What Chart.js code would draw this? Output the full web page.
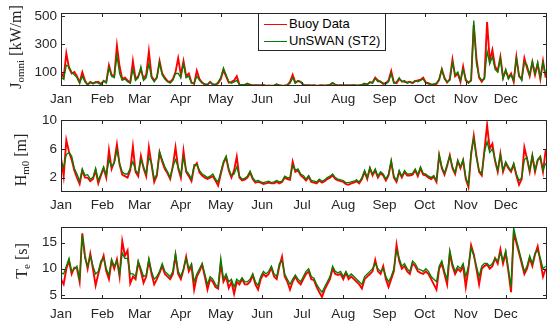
<!DOCTYPE html>
<html lang="en">
<head>
  <meta charset="UTF-8">
  <title>Buoy vs UnSWAN wave parameters</title>
  <script src="https://cdn.jsdelivr.net/npm/chart.js"></script>
  <style>
    body {
      margin: 0;
      background: #ffffff;
      width: 550px;
      height: 328px;
      position: relative;
      overflow: hidden;
      font-family: 'Liberation Sans', Arial, sans-serif;
    }
    .panel {
      position: absolute;
      left: 0;
      width: 550px;
    }
    .ylab {
      position: absolute;
      transform: translate(-50%, -50%) rotate(-90deg);
      white-space: nowrap;
      font-family: 'Liberation Serif', 'Times New Roman', serif;
      font-size: 16px;
      color: #262626;
    }
    .ylab sub {
      font-size: 11px;
      vertical-align: -3px;
    }
    .legend {
      position: absolute;
      left: 258px;
      top: 13px;
      width: 126px;
      height: 36px;
      background: #fff;
      border: 1px solid #262626;
      font-size: 13px;
      color: #000;
    }
    .legend .row {
      position: absolute;
      left: 5px;
      height: 16px;
      line-height: 16px;
      white-space: nowrap;
    }
    .legend .swatch {
      display: inline-block;
      width: 23px;
      height: 0;
      vertical-align: middle;
      margin-right: 2px;
    }
  </style>
</head>
<body>

<div class="panel" style="top:0;height:106px"><canvas id="jChart" width="550" height="106"></canvas></div>
<div class="panel" style="top:106px;height:106px"><canvas id="hChart" width="550" height="106"></canvas></div>
<div class="panel" style="top:212px;height:116px"><canvas id="tChart" width="550" height="116"></canvas></div>

<div class="ylab" style="left:16px;top:47px">J<sub>omni</sub> [kW/m]</div>
<div class="ylab" style="left:21px;top:160px">H<sub>m0</sub> [m]</div>
<div class="ylab" style="left:22px;top:261px">T<sub>e</sub> [s]</div>

<div class="legend">
  <div class="row" style="top:2px"><span class="swatch" style="border-top:1.5px solid #ff0000"></span>Buoy Data</div>
  <div class="row" style="top:19px"><span class="swatch" style="border-top:1.5px solid #008000"></span>UnSWAN (ST2)</div>
</div>

<script>
  // month starts (day of year) and their labels
  const monthDays = [0, 31, 59, 90, 120, 151, 181, 212, 243, 273, 304, 334];
  const monthNames = ['Jan', 'Feb', 'Mar', 'Apr', 'May', 'Jun', 'Jul', 'Aug', 'Sep', 'Oct', 'Nov', 'Dec'];

  // samples every 2 days
  const stepDays = 2;

  // omnidirectional wave power [kW/m]
  const jBuoy = [
    100,60,235,130,90,100,70,25,100,40,
    8,30,20,25,30,15,35,30,150,80,
    70,290,140,50,60,40,25,180,50,70,
    120,50,80,250,70,40,60,180,90,60,
    35,30,50,100,200,80,180,70,90,25,
    15,110,50,25,10,10,30,10,10,20,
    50,115,70,25,30,40,70,10,8,10,
    15,10,5,6,5,4,8,3,3,3,
    4,10,5,3,4,6,30,80,25,35,
    30,8,5,5,4,5,3,4,6,3,
    5,8,20,10,4,5,4,5,4,5,
    6,4,5,8,15,12,25,25,60,40,
    30,15,20,40,107,25,20,50,35,30,
    25,30,20,35,40,45,60,25,20,12,
    10,15,45,120,60,25,50,190,70,90,
    30,140,40,25,40,440,200,60,30,60,
    460,180,260,140,110,210,60,110,60,90,
    30,210,70,50,200,130,70,170,80,160,
    50,180,60
  ];
  const jSwan = [
    60,50,150,140,100,80,60,20,70,30,
    10,25,15,30,20,10,40,20,130,70,
    60,220,90,40,50,30,20,120,40,60,
    140,40,60,160,60,30,60,170,80,50,
    30,20,40,90,90,60,160,60,70,20,
    20,70,40,20,15,10,25,15,10,30,
    60,130,80,30,20,30,40,10,10,8,
    20,8,5,5,4,5,6,3,4,3,
    5,15,4,3,4,8,20,60,20,40,
    30,10,5,6,4,5,3,4,5,4,
    6,10,25,8,5,6,4,5,6,4,
    8,5,6,10,20,10,30,20,55,30,
    35,20,15,30,90,20,30,60,30,40,
    20,30,25,40,30,40,50,20,15,10,
    15,20,50,120,50,30,40,170,80,100,
    40,120,50,20,40,470,160,70,40,50,
    250,160,210,120,100,200,50,120,50,80,
    40,200,80,40,170,150,80,180,90,170,
    60,170,80
  ];

  // significant wave height [m]
  const hBuoy = [
    4.8,2.2,7.2,5.6,4.5,3.0,2.0,1.1,3.0,2.0,
    2.0,1.5,1.8,3.0,1.2,2.3,3.3,2.0,5.8,3.2,
    4.2,6.6,3.8,2.4,2.2,2.0,3.0,6.3,2.8,2.2,
    5.0,3.3,2.2,6.2,3.8,1.4,2.3,5.5,4.2,3.2,
    2.6,1.8,3.6,6.2,3.3,2.0,5.7,2.8,2.2,1.5,
    3.5,4.0,2.7,2.3,2.0,1.8,2.0,2.2,1.6,0.9,
    2.5,4.0,4.8,3.0,2.0,3.0,4.9,2.0,1.6,1.7,
    2.0,2.7,1.8,1.3,1.4,1.3,1.1,1.2,1.3,1.2,
    1.2,1.4,1.2,1.4,2.0,1.8,1.7,4.2,2.8,3.0,
    2.3,2.0,1.6,2.1,1.4,1.3,1.2,1.6,1.3,1.5,
    1.8,2.0,2.3,1.8,1.6,1.5,1.4,1.1,1.0,1.2,
    1.3,1.5,1.2,1.8,2.8,1.8,3.3,2.3,3.0,2.0,
    2.6,2.3,1.6,2.3,4.2,2.0,1.4,2.8,2.0,2.8,
    2.3,2.3,2.4,3.0,2.2,3.3,2.4,2.3,2.0,1.8,
    2.1,1.4,5.1,3.3,2.4,3.6,5.1,3.3,2.5,4.3,
    3.3,4.4,1.8,0.7,5.2,7.8,5.0,2.8,2.3,5.8,
    9.3,6.0,6.7,4.3,2.8,5.3,2.8,4.0,3.3,2.8,
    3.8,2.3,1.0,1.8,6.2,4.6,2.8,5.0,2.8,4.4,
    4.8,2.8,5.8
  ];
  const hSwan = [
    4.2,3.5,5.2,5.5,5.0,3.3,2.5,1.5,3.2,2.3,
    2.4,1.8,2.0,3.3,1.6,2.5,3.5,2.3,4.5,3.5,
    4.0,5.8,4.0,2.8,2.5,2.5,3.3,4.2,3.0,2.6,
    4.5,3.5,2.5,4.8,4.0,1.8,2.5,5.6,4.5,3.5,
    2.8,2.0,3.5,4.5,3.5,2.3,4.8,3.0,2.5,1.8,
    3.8,3.8,3.0,2.5,2.3,2.0,2.2,2.5,1.8,1.4,
    2.8,4.2,5.0,3.2,2.3,2.5,3.5,2.2,1.8,1.9,
    2.2,2.9,2.0,1.5,1.6,1.4,1.3,1.4,1.5,1.3,
    1.4,1.6,1.4,1.5,2.2,2.0,2.0,3.7,3.0,3.2,
    2.5,2.3,1.8,2.3,1.6,1.5,1.4,1.8,1.5,1.7,
    2.0,2.2,2.5,2.0,1.8,1.7,1.6,1.3,1.3,1.4,
    1.5,1.7,1.4,2.0,3.0,2.0,3.4,2.5,3.2,2.2,
    2.8,2.5,1.8,2.5,4.4,2.2,1.6,3.0,2.2,3.0,
    2.5,2.5,2.6,3.2,2.4,3.5,2.6,2.5,2.2,2.0,
    2.3,1.6,5.2,3.5,2.6,3.8,5.0,3.5,2.7,4.4,
    3.5,4.5,2.0,1.0,5.5,7.5,4.8,3.0,2.5,5.5,
    7.0,5.5,6.0,4.5,3.0,5.2,3.0,4.2,3.5,3.0,
    4.0,2.5,1.6,2.0,4.5,4.8,3.0,5.2,3.0,4.5,
    5.0,3.0,4.0
  ];

  // energy period [s]
  const tBuoy = [
    8.0,7.0,10.0,11.5,9.0,10.2,10.0,7.5,16.8,12.5,
    10.0,12.9,10.0,6.8,9.0,11.0,12.5,9.5,8.0,11.5,
    10.0,11.8,8.5,15.3,12.5,13.5,7.2,8.5,8.0,11.2,
    9.5,7.3,8.5,11.5,9.0,7.0,8.0,9.2,10.5,9.0,
    8.5,8.0,9.0,12.5,9.0,8.0,9.8,12.3,9.5,10.5,
    6.0,8.5,9.5,10.8,8.5,6.0,8.0,7.5,6.5,6.2,
    11.0,7.5,8.5,6.3,7.5,5.2,7.5,7.0,8.0,7.0,
    7.0,7.5,8.8,7.0,6.0,8.0,9.0,8.5,9.0,10.2,
    8.5,8.0,10.5,12.3,8.5,7.5,6.0,7.5,8.5,7.5,
    7.0,8.0,9.0,9.5,8.0,7.8,6.5,5.5,4.6,6.0,
    7.0,8.0,10.0,9.0,8.8,9.0,8.0,9.2,8.0,8.5,
    8.0,7.5,7.0,6.2,8.0,8.5,9.0,9.5,11.7,9.5,
    9.0,10.5,8.0,6.5,8.0,9.5,14.6,11.5,10.0,10.5,
    9.5,9.0,11.0,10.5,9.5,9.2,9.0,9.5,9.0,8.0,
    7.0,6.0,10.0,11.0,9.0,7.0,13.0,10.5,9.0,10.0,
    9.5,10.5,6.5,10.0,14.5,12.8,10.0,7.0,10.0,10.5,
    10.8,10.0,10.5,12.0,11.0,13.7,11.0,13.0,9.5,5.5,
    16.8,15.0,13.0,11.0,9.0,10.0,12.0,10.5,12.7,14.3,
    11.5,8.5,10.0
  ];
  const tSwan = [
    9.2,9.0,10.5,12.0,9.5,10.0,10.5,8.0,16.5,12.0,
    10.5,12.5,10.5,9.0,9.5,11.5,12.0,10.0,8.8,11.8,
    10.5,11.5,9.0,13.0,12.0,12.0,9.0,9.0,8.5,11.5,
    10.0,8.5,8.8,12.0,9.5,8.0,8.5,9.5,11.0,9.5,
    9.0,8.5,9.5,13.0,9.5,8.5,10.0,12.0,10.0,11.0,
    7.5,9.0,10.0,11.0,9.0,7.0,8.5,8.0,7.0,6.5,
    12.0,8.0,9.0,7.5,8.0,6.5,8.0,7.5,8.3,7.5,
    7.5,8.0,9.0,7.5,6.8,8.5,9.5,9.0,9.5,10.5,
    9.0,8.5,11.0,11.5,9.0,8.0,7.0,8.0,8.8,8.0,
    7.5,8.5,9.5,10.0,8.5,8.2,7.0,6.2,5.5,6.5,
    7.5,8.5,10.5,9.5,9.2,9.5,8.5,9.5,8.5,9.0,
    8.5,8.0,7.5,7.0,8.5,9.0,9.5,10.0,11.0,10.0,
    9.5,10.0,8.5,7.5,8.5,10.0,13.5,12.0,10.5,11.0,
    10.0,9.5,11.5,11.0,10.0,9.8,9.5,10.0,9.5,8.5,
    8.0,7.5,10.5,11.5,9.5,8.0,13.5,11.0,9.5,10.5,
    10.0,11.0,8.5,10.5,14.0,12.5,10.5,8.5,10.5,11.0,
    11.0,10.5,11.0,12.0,11.5,13.0,11.5,13.5,10.0,6.5,
    17.8,15.5,13.5,11.5,9.5,10.5,12.5,11.0,13.0,13.5,
    12.0,10.0,10.5
  ];

  const axisColor = '#262626';
  const tickFont = { family: "'Liberation Sans', Arial, sans-serif", size: 13.5 };

  function toPoints(arr) {
    return arr.map((v, i) => ({ x: i * stepDays, y: v }));
  }

  // MATLAB style box with inward ticks on all four sides
  const boxTicks = {
    id: 'boxTicks',
    afterDraw(chart) {
      const ctx = chart.ctx;
      const a = chart.chartArea;
      const xs = chart.scales.x, ys = chart.scales.y;
      const len = 4;
      ctx.save();
      ctx.strokeStyle = axisColor;
      ctx.lineWidth = 1;
      ctx.beginPath();
      xs.ticks.forEach(t => {
        const px = Math.round(xs.getPixelForValue(t.value)) + 0.5;
        ctx.moveTo(px, a.bottom); ctx.lineTo(px, a.bottom - len);
        ctx.moveTo(px, a.top); ctx.lineTo(px, a.top + len);
      });
      ys.ticks.forEach(t => {
        const py = Math.round(ys.getPixelForValue(t.value)) + 0.5;
        ctx.moveTo(a.left, py); ctx.lineTo(a.left + len, py);
        ctx.moveTo(a.right, py); ctx.lineTo(a.right - len, py);
      });
      ctx.stroke();
      ctx.strokeRect(Math.round(a.left) + 0.5, Math.round(a.top) + 0.5,
        Math.round(a.right - a.left) - 1, Math.round(a.bottom - a.top) - 1);
      ctx.restore();
    }
  };

  function makeChart(id, buoy, swan, yMin, yMax, yTicks, padTop, xHeight, xPad) {
    const ctx = document.getElementById(id).getContext('2d');
    return new Chart(ctx, {
      type: 'line',
      data: {
        datasets: [
          { label: 'UnSWAN (ST2)', data: toPoints(swan), borderColor: '#008000', borderWidth: 1.3, pointRadius: 0, tension: 0 },
          { label: 'Buoy Data', data: toPoints(buoy), borderColor: '#ff0000', borderWidth: 1.9, pointRadius: 0, tension: 0 }
        ]
      },
      options: {
        responsive: false,
        animation: false,
        events: [],
        layout: { padding: { top: padTop, right: 3, left: 0, bottom: 0 } },
        plugins: { legend: { display: false }, tooltip: { enabled: false } },
        scales: {
          x: {
            type: 'linear',
            min: 0,
            max: 365,
            grid: { display: false, drawTicks: false },
            border: { display: false },
            afterBuildTicks: s => { s.ticks = monthDays.map(v => ({ value: v })); },
            afterFit: s => { s.height = xHeight; },
            ticks: {
              color: axisColor,
              font: tickFont,
              padding: xPad,
              maxRotation: 0,
              autoSkip: false,
              callback: v => monthNames[monthDays.indexOf(v)]
            }
          },
          y: {
            min: yMin,
            max: yMax,
            grid: { display: false, drawTicks: false },
            border: { display: false },
            afterBuildTicks: s => { s.ticks = yTicks.map(v => ({ value: v })); },
            afterFit: s => { s.width = 61; },
            ticks: { color: axisColor, font: tickFont, padding: 4 }
          }
        }
      },
      plugins: [boxTicks]
    });
  }

  makeChart('jChart', jBuoy, jSwan, 0, 525, [100, 200, 300, 400, 500], 13, 20, 5);
  makeChart('hChart', hBuoy, hSwan, 0, 10, [2, 4, 6, 8, 10], 14, 20, 5);
  makeChart('tChart', tBuoy, tSwan, 4.2, 18, [5, 10, 15], 15, 29, 7);
</script>

</body>
</html>
